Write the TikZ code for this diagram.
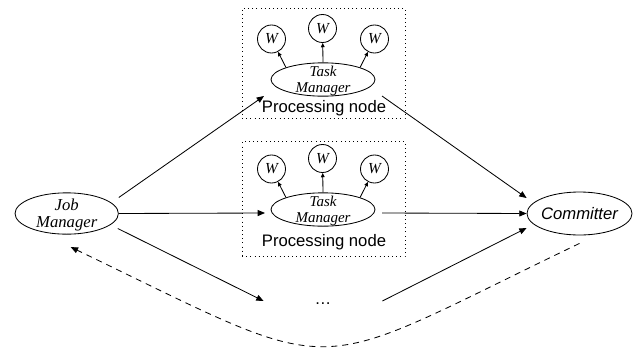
\documentclass[tikz,border=0pt]{standalone}
\usepackage{fontspec}
\setmainfont{Liberation Serif}
\setsansfont{Liberation Sans}
\usetikzlibrary{arrows.meta,calc,shapes.geometric}
\begin{document}
\begin{tikzpicture}[x=0.6pt,y=-0.6pt,line width=0.5pt,
  ell/.style={draw,ellipse,inner sep=0pt},
  jmtext/.style={align=center,inner sep=0pt,font=\fontsize{10}{10}\selectfont\itshape},
  tmtext/.style={align=center,inner sep=0pt,font=\fontsize{9}{9.6}\selectfont\itshape},
  cmtext/.style={inner sep=0pt,font=\sffamily\fontsize{10}{12}\selectfont\itshape},
  arr/.style={-{Triangle[length=4.4pt,width=3.6pt]}},
  sarr/.style={-{Triangle[length=2.6pt,width=2.2pt]}},
  wnode/.style={draw,circle,minimum size=16.8pt,inner sep=0pt,font=\fontsize{9.2}{10}\selectfont\itshape},
  pbox/.style={draw,dotted,minimum width=97.8pt,inner sep=0pt},
  plabel/.style={inner sep=0pt,font=\sffamily\fontsize{10}{12}\selectfont},
  dotsnode/.style={minimum width=70.8pt,inner sep=0pt,text height=4.2pt,text depth=0pt,font=\sffamily\fontsize{10}{12}\selectfont},
  dashline/.style={dash pattern=on 3.6pt off 3pt}]
\useasboundingbox (0,0) rectangle (634,349);

% processing boxes
\node[pbox,minimum height=66pt] (box1) at (323.5,63.3) {};
\node[pbox,minimum height=69pt] (box2) at (323.5,199.2) {};
\node[plabel] (lab1) at (324,108) {Processing node};
\node[plabel] (lab2) at (324,242) {Processing node};

% job manager
\node[ell,minimum width=62pt,minimum height=24.8pt] (jm) at (66.7,213.5) {};
\node[jmtext] (jmt) at (66.7,215) {Job\\Manager};

% committer
\node[ell,minimum width=63pt,minimum height=25.8pt] (cm) at (579.5,213.5) {};
\node[cmtext] (cmt) at (579.5,213.5) {Committer};

% task managers
\node[ell,minimum width=62.4pt,minimum height=20pt] (tm1) at (323,79.5) {};
\node[tmtext] (tm1t) at (323,80.5) {Task\\Manager};
\node[ell,minimum width=62.4pt,minimum height=20pt] (tm2) at (323,209.5) {};
\node[tmtext] (tm2t) at (323,210.5) {Task\\Manager};

% workers
\node[wnode] (w11) at (271.5,39) {W};
\node[wnode] (w12) at (322.5,28.5) {W};
\node[wnode] (w13) at (374.5,39) {W};
\node[wnode] (w21) at (271.5,169) {W};
\node[wnode] (w22) at (322.5,158.5) {W};
\node[wnode] (w23) at (374.5,169) {W};

\draw[sarr] (tm1.north west) -- (w11);
\draw[sarr] (tm1.north) -- (w12);
\draw[sarr] (tm1.north east) -- (w13);
\draw[sarr] (tm2.north west) -- (w21);
\draw[sarr] (tm2.north) -- (w22);
\draw[sarr] (tm2.north east) -- (w23);

% dots
\node[dotsnode] (dots) at (323,301) {…};

% connectors
\draw[arr] ($(jm.east)+(0,-16)$) -- ($(tm1.center)+(-59,16.5)$);
\draw[arr] ($(jm.east)+(0,0)$) -- ($(tm2.center)+(-58,3.5)$);
\draw[arr] ($(jm.east)+(-1,15)$) -- (dots.west);
\draw[arr] ($(tm1.center)+(59,16.5)$) -- ($(cm.west)+(0,-15.5)$);
\draw[arr] ($(tm2.center)+(59,3.5)$) -- (cm.west);
\draw[arr] (dots.east) -- ($(cm.west)+(0,14.5)$);

\draw[arr,dashline] ($(cm.south)+(0,8)$) .. controls (299,378) and (351,382) .. ($(jm.south)+(4,12.5)$);
\end{tikzpicture}
\end{document}
